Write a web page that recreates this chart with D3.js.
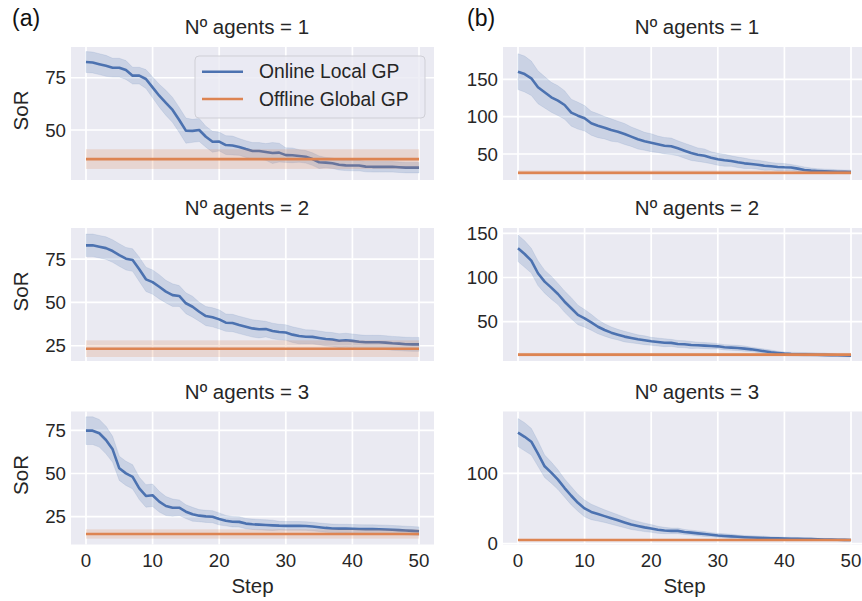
<!DOCTYPE html>
<html>
<head>
<meta charset="utf-8">
<script src="https://cdn.jsdelivr.net/npm/d3@7"></script>
<style>
  body { margin: 0; background: #fff; }
  svg { display: block; font-family: "Liberation Sans", Arial, sans-serif; }
</style>
</head>
<body>
<svg id="chart" width="862" height="601"></svg>
<script>
/* data */
const steps = d3.range(0, 51);
const xTicks = [0, 10, 20, 30, 40, 50];
const seriesNames = ["Online Local GP", "Offline Global GP"];
const agentTitles = ["Nº agents = 1", "Nº agents = 2", "Nº agents = 3"];
const panelLabels = ["(a)", "(b)"];

// (a) Online Local GP mean SoR per step
const onlineA1 = [82.5, 82.3, 81.5, 80.7, 79.8, 79.8, 78.7, 76, 76, 74.4,
    70.4, 66.4, 63, 59.6, 54.8, 49.7, 49.6, 50, 46.8, 44.4,
    44.5, 42.8, 42.6, 41.9, 40.9, 40, 40, 39.5, 39, 39.2,
    38, 37.9, 37.6, 37.2, 36.1, 34.6, 34.4, 34.1, 33.4, 33.1,
    33, 33, 32.5, 32.4, 32.4, 32.4, 32.4, 32.2, 32, 32, 32];
const ciA1 = [5, 5, 5, 5, 4.5, 4.5, 4.5, 4, 4, 4.5,
    5, 5.5, 6, 6, 6, 6, 5.5, 5.5, 5, 5,
    4.5, 4.5, 4.5, 4, 4, 4, 4, 4, 5, 4.5,
    3.5, 3.5, 3, 3, 3, 3, 2.5, 2.5, 2.5, 2.5,
    2.5, 2.5, 2.5, 2.5, 2.5, 2.5, 2.5, 2.5, 2.5, 2.5, 2.5];
const onlineA2 = [82.9, 82.9, 82.1, 81.3, 79.6, 77.3, 75.2, 74.4, 69.1, 63.3,
    61.7, 59, 56.2, 54.2, 53.7, 49.5, 47.5, 44.6, 42.1, 41.4,
    40.2, 38.3, 38.1, 37, 36, 35, 34.5, 34.6, 33.5, 32.9,
    32.6, 31.4, 30.6, 30.2, 30.1, 29.5, 28.9, 28.6, 27.9, 28.2,
    27.8, 27.3, 27, 27, 27, 26.8, 26.4, 26.2, 25.9, 25.8, 25.8];
const ciA2 = [6.5, 6.5, 6.5, 6.5, 6.5, 6.5, 6.5, 6.5, 7, 7,
    7, 7, 6.5, 6.5, 6, 6, 6, 5.5, 5.5, 5.5,
    5.5, 5, 5, 5, 5, 5, 5, 4.5, 4.5, 4.5,
    4.5, 4.5, 4.5, 4, 4, 4, 4, 4, 4, 4,
    4, 4, 4, 4, 4, 4, 4, 4, 4, 4, 4];
const onlineA3 = [74.8, 74.8, 73.3, 69.4, 64, 53, 50.1, 48.1, 41.4, 37,
    37.4, 33.7, 31.2, 30.2, 30.2, 27.9, 26.4, 25.6, 25.2, 25,
    23.7, 22.7, 22.1, 22, 21, 20.6, 20.4, 20.2, 20, 19.8,
    19.7, 19.7, 19.7, 19.6, 19.3, 18.9, 18.5, 18.2, 18.1, 18.1,
    18, 17.9, 17.8, 17.8, 17.7, 17.6, 17.4, 17.2, 17, 16.8, 16.6];
const ciA3 = [8, 8, 8, 8, 7.5, 7, 7, 7, 6.5, 6.5,
    6.5, 6, 5.5, 5, 4.5, 4, 4, 3.5, 3.5, 3.5,
    3.5, 3, 3, 3, 3, 3, 3, 3, 3, 2.5,
    2.5, 2.5, 2.5, 2.5, 2.5, 2.5, 2.5, 2.5, 2.5, 2.5,
    2.5, 2.5, 2.5, 2.5, 2.5, 2.5, 2.5, 2.5, 2.5, 2.5, 2.5];

// (b) Online Local GP mean SoR per step
const onlineB1 = [160.2, 157, 151.3, 139.3, 132.6, 125.9, 121.4, 115.6, 105.3, 101.3,
    97.8, 91.1, 87.9, 85.2, 82.1, 79.9, 76.8, 73.2, 69.7, 67,
    65.1, 63, 61.1, 60.3, 57.6, 54.4, 51.3, 49.1, 47.7, 45,
    42.9, 41.6, 40.6, 38.9, 37.5, 36.6, 35.7, 34.3, 33.5, 32.6,
    32.2, 32, 30.4, 28.6, 27.7, 27.2, 26.8, 26.5, 26.3, 26.1, 26];
const ciB1 = [24, 24, 23, 22, 21, 20, 20, 19, 18, 18,
    17, 16, 16, 15, 15, 14, 14, 13, 13, 12,
    12, 11, 11, 11, 10, 10, 10, 9, 9, 8,
    8, 8, 7, 7, 7, 6, 6, 6, 5, 5,
    5, 4, 4, 4, 3.5, 3, 3, 3, 2.5, 2.5, 2.5];
const onlineB2 = [133, 126.6, 119, 104.8, 95.3, 88.5, 81.3, 72.6, 65.2, 57.6,
    53.8, 49.3, 44.3, 40.6, 37.6, 35.3, 33.1, 31.6, 30.1, 29,
    27.8, 27, 26.2, 26, 24.8, 24.5, 23.6, 23.3, 22.9, 22.5,
    22.1, 21, 20.6, 20.2, 19.5, 18.7, 17.6, 16.5, 15.4, 14.6,
    13.8, 13.4, 13.2, 13, 12.8, 12.6, 12.4, 12.2, 12, 11.8, 11.6];
const ciB2 = [15, 15, 14, 14, 13, 13, 12, 12, 12, 11,
    10, 9, 8, 7, 6.5, 6, 6, 5.5, 5, 5,
    4.5, 4.5, 4.5, 4, 4, 4, 4, 3.5, 3.5, 3.5,
    3, 3, 3, 3, 3, 2.5, 2.5, 2.5, 2.5, 2,
    2, 2, 2, 2, 2, 2, 2, 1.5, 1.5, 1.5, 1.5];
const onlineB3 = [158, 152, 145, 128, 110, 101, 91, 79, 68, 58,
    50, 45, 42, 39, 36, 33, 30, 27, 25, 23,
    21.5, 19.5, 18.5, 18, 18, 16.5, 15.5, 14.5, 13.5, 12.5,
    11.5, 10.8, 10.2, 9.6, 9, 8.5, 8.2, 7.9, 7.6, 7.3,
    7, 6.8, 6.6, 6.4, 6.2, 6, 5.8, 5.6, 5.4, 5.2, 5];
const ciB3 = [20, 20, 19, 18, 16, 15, 14, 13, 13, 12,
    12, 11, 10, 9, 8.5, 8, 7.5, 7, 6.5, 6,
    5.5, 5, 4.5, 4, 4, 3.5, 3.5, 3.5, 3.5, 3,
    3, 3, 3, 2.5, 2.5, 2.5, 2.5, 2.5, 2, 2,
    2, 2, 2, 2, 2, 1.5, 1.5, 1.5, 1.5, 1.5, 1.5];

// Offline Global GP (constant over steps): mean and CI half width, panels a1..a3, b1..b3
const offlineMean = [36.1, 23.3, 15, 25, 12.7, 5];
const offlineCi = [4.7, 4.8, 2.7, 3, 2, 1.5];

// y axis ticks and ranges per panel
const yTicks = [[25, 50, 75], [25, 50, 75], [25, 50, 75], [50, 100, 150], [50, 100, 150], [0, 100]];
const yDomains = [[26.1, 89.7], [16.2, 92.9], [8.9, 85.9], [15.2, 193.2], [5.5, 156], [-1.4, 188]];

/* layout */
const colLeft = [71, 503];
const plotW = 363;
const rowTop = [47, 228, 411.5];
const plotH = 133;
const titleX = [247, 697];
const blue = "#4C72B0";
const orange = "#DD8452";
const textColor = "#262626";
const bg = "#EAEAF2";

const svg = d3.select("#chart");

const onlineSets = [onlineA1, onlineA2, onlineA3, onlineB1, onlineB2, onlineB3];
const ciSets = [ciA1, ciA2, ciA3, ciB1, ciB2, ciB3];

onlineSets.forEach(function (mean, i) {
    const col = Math.floor(i / 3);
    const row = i % 3;
    const x0 = colLeft[col];
    const y0 = rowTop[row];
    const ci = ciSets[i];

    const xScale = d3.scaleLinear().domain([-2.25, 52.25]).range([x0, x0 + plotW]);
    const yScale = d3.scaleLinear().domain(yDomains[i]).range([y0 + plotH, y0]);
    // only ticks that fall inside the axis range
    const ticks = yTicks[i].filter(t => t >= yDomains[i][0] && t <= yDomains[i][1]);

    const g = svg.append("g");
    const clipId = "clip" + i;
    g.append("clipPath").attr("id", clipId)
        .append("rect")
        .attr("x", x0).attr("y", y0)
        .attr("width", plotW).attr("height", plotH);

    g.append("rect")
        .attr("x", x0).attr("y", y0)
        .attr("width", plotW).attr("height", plotH)
        .attr("fill", bg);

    // grid
    g.selectAll(".vgrid").data(xTicks).enter().append("line")
        .attr("x1", d => xScale(d)).attr("x2", d => xScale(d))
        .attr("y1", y0).attr("y2", y0 + plotH)
        .attr("stroke", "#fff").attr("stroke-width", 1.7);
    g.selectAll(".hgrid").data(ticks).enter().append("line")
        .attr("x1", x0).attr("x2", x0 + plotW)
        .attr("y1", d => yScale(d)).attr("y2", d => yScale(d))
        .attr("stroke", "#fff").attr("stroke-width", 1.7);

    const plot = g.append("g").attr("clip-path", "url(#" + clipId + ")");

    // online band
    const area = d3.area()
        .x(d => xScale(d))
        .y0(d => yScale(mean[d] - ci[d]))
        .y1(d => yScale(mean[d] + ci[d]));
    plot.append("path").datum(steps)
        .attr("d", area)
        .attr("fill", blue).attr("fill-opacity", 0.2)
        .attr("stroke", blue).attr("stroke-opacity", 0.12);

    const line = d3.line().x(d => xScale(d)).y(d => yScale(mean[d]));
    plot.append("path").datum(steps)
        .attr("d", line)
        .attr("fill", "none").attr("stroke", blue)
        .attr("stroke-width", 2.6).attr("stroke-linejoin", "round");

    // offline band + line
    const offLo = offlineMean[i] - offlineCi[i];
    const offHi = offlineMean[i] + offlineCi[i];
    plot.append("rect")
        .attr("x", xScale(steps[0])).attr("width", xScale(steps[steps.length - 1]) - xScale(steps[0]))
        .attr("y", yScale(offHi)).attr("height", yScale(offLo) - yScale(offHi))
        .attr("fill", orange).attr("fill-opacity", 0.2);

    plot.append("line")
        .attr("x1", xScale(steps[0])).attr("x2", xScale(steps[steps.length - 1]))
        .attr("y1", yScale(offlineMean[i])).attr("y2", yScale(offlineMean[i]))
        .attr("stroke", orange).attr("stroke-width", 2.6);

    // y tick labels
    g.selectAll(".ytick").data(ticks).enter().append("text")
        .attr("x", x0 - 5)
        .attr("y", d => yScale(d))
        .attr("dy", "0.35em")
        .attr("text-anchor", "end")
        .attr("font-size", 18.7)
        .attr("fill", textColor)
        .text(d => d);

    // x tick labels on bottom row
    if (row === 2) {
        g.selectAll(".xtick").data(xTicks).enter().append("text")
            .attr("x", d => xScale(d))
            .attr("y", 567)
            .attr("text-anchor", "middle")
            .attr("font-size", 18.7)
            .attr("fill", textColor)
            .text(d => d);
        g.append("text")
            .attr("x", x0 + plotW / 2).attr("y", 593)
            .attr("text-anchor", "middle")
            .attr("font-size", 20.5)
            .attr("fill", textColor)
            .text("Step");
    }

    // title
    g.append("text")
        .attr("x", titleX[col]).attr("y", y0 - 13)
        .attr("text-anchor", "middle")
        .attr("font-size", 20.5)
        .attr("fill", textColor)
        .text(agentTitles[row]);

    // y label (column a only)
    if (col === 0) {
        g.append("text")
            .attr("transform", "translate(28," + (y0 + plotH / 2 - 3) + ") rotate(-90)")
            .attr("text-anchor", "middle")
            .attr("font-size", 20.5)
            .attr("fill", textColor)
            .text("SoR");
    }
});

// panel letters
svg.selectAll(".plabel").data(panelLabels).enter().append("text")
    .attr("x", (d, i) => [12, 467][i])
    .attr("y", 26)
    .attr("font-size", 23)
    .attr("fill", "#111")
    .text(d => d);

// legend in first panel
const legend = svg.append("g");
legend.append("rect")
    .attr("x", 195).attr("y", 56)
    .attr("width", 230).attr("height", 62)
    .attr("rx", 4)
    .attr("fill", bg).attr("fill-opacity", 0.8)
    .attr("stroke", "#cfcfd6").attr("stroke-width", 1);
[blue, orange].forEach(function (c, k) {
    const ly = 71.7 + k * 27.3;
    legend.append("line")
        .attr("x1", 202).attr("x2", 243)
        .attr("y1", ly).attr("y2", ly)
        .attr("stroke", c).attr("stroke-width", 2.6);
    legend.append("text")
        .attr("x", 259).attr("y", ly)
        .attr("dy", "0.35em")
        .attr("font-size", 19.3)
        .attr("fill", textColor)
        .text(seriesNames[k]);
});
</script>
</body>
</html>
